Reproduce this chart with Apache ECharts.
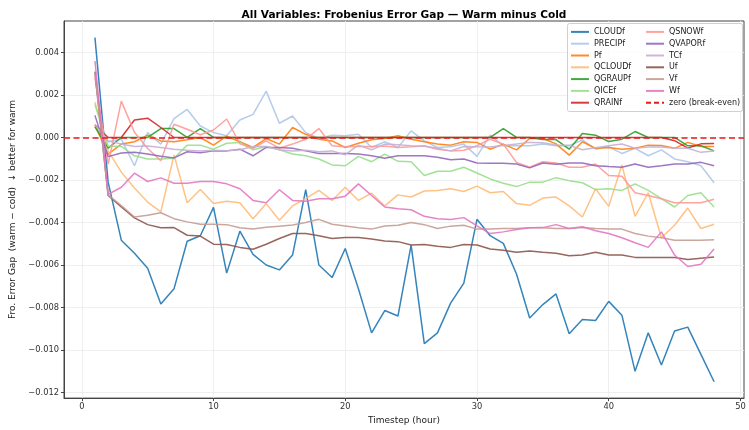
<!DOCTYPE html>
<html><head><meta charset="utf-8">
<script src="https://cdn.jsdelivr.net/npm/echarts@6/dist/echarts.min.js"></script>
<style>html,body{margin:0;padding:0;background:#fff}#c{width:749px;height:430px}</style>
</head><body><div id="c"></div>
<script>
const timesteps = [1,2,3,4,5,6,7,8,9,10,11,12,13,14,15,16,17,18,19,20,21,22,23,24,25,26,27,28,29,30,31,32,33,34,35,36,37,38,39,40,41,42,43,44,45,46,47,48];
const xTicks = [0,10,20,30,40,50];
const yTicks = [-0.012,-0.010,-0.008,-0.006,-0.004,-0.002,0,0.002,0.004];

const CLOUDf = [0.0047,-0.0021,-0.00483,-0.00545,-0.00615,-0.00783,-0.00712,-0.00488,-0.00462,-0.00329,-0.00638,-0.00441,-0.0055,-0.006,-0.00623,-0.00553,-0.00245,-0.006,-0.00659,-0.00522,-0.00712,-0.00919,-0.00814,-0.0084,-0.00506,-0.0097,-0.00919,-0.00779,-0.00685,-0.00385,-0.00462,-0.00498,-0.00642,-0.00849,-0.00786,-0.00736,-0.00923,-0.00856,-0.00861,-0.00771,-0.00836,-0.011,-0.00919,-0.0107,-0.0091,-0.00892,-0.0102,-0.01149];
const PRECIPf = [0.0005,-0.0002,-0.00008,-0.00133,0.00023,-0.00031,0.00089,0.00132,0.00054,0.00023,0.00008,0.00082,0.00109,0.00218,0.00067,0.00101,0.00023,-0.00005,0.00011,0.00008,0.00015,-0.00047,-0.0002,-0.00047,0.00031,-0.00016,-0.00047,-0.00044,-0.00031,-0.00089,0.00011,-0.00039,-0.00039,-0.00039,-0.00031,-0.00039,-0.00039,-0.00011,-0.00055,-0.00044,-0.00075,-0.00051,-0.00086,-0.00058,-0.00101,-0.00114,-0.00133,-0.00213];
const Pf = [0.00057,-0.00078,-0.00031,-0.0002,0.00011,-0.00016,-0.0002,-0.00011,0.0,-0.00036,0.00006,-0.0002,-0.00047,-0.00005,-0.00031,0.00047,0.00015,-0.00008,-0.00016,-0.00047,-0.00027,-0.00011,-0.00005,0.00008,-0.00008,-0.0002,-0.00031,-0.00036,-0.0002,-0.00023,-0.00055,-0.00031,-0.00058,-0.00005,-0.00005,-0.0003,-0.00083,-0.0002,-0.00051,-0.00047,-0.00055,-0.00051,-0.00036,-0.00038,-0.00051,-0.00023,-0.00042,-0.00042];
const QCLOUDf = [0.00166,-0.00063,-0.00163,-0.00238,-0.00304,-0.0035,-0.00082,-0.00307,-0.00245,-0.00311,-0.003,-0.00307,-0.00382,-0.00311,-0.00389,-0.00322,-0.00288,-0.00249,-0.00296,-0.00234,-0.00296,-0.00262,-0.00322,-0.0027,-0.0028,-0.00252,-0.00249,-0.00241,-0.00254,-0.00229,-0.0026,-0.00254,-0.00311,-0.00319,-0.00285,-0.0028,-0.00322,-0.00374,-0.00241,-0.00324,-0.00129,-0.00371,-0.0026,-0.00472,-0.00413,-0.00332,-0.00428,-0.00408];
const QGRAUPf = [0.0005,-0.0005,0,0,0,0.00042,0.00042,0,0.00042,0,0,0,0,0,0,0,0,0,0,0,0,0,0,0,0,0,0,0,0,0,0,0.00042,0,0,-0.0001,-0.0001,-0.00055,0.00019,0.00011,-0.00019,-0.00008,0.00028,0,0,0,-0.00039,-0.00039,-0.00063];
const QICEf = [0.00155,-0.0004,-0.00042,-0.00086,-0.00101,-0.00101,-0.00098,-0.00036,-0.00036,-0.00055,-0.00027,-0.00023,-0.00058,-0.00042,-0.00058,-0.00078,-0.00086,-0.00101,-0.00129,-0.00133,-0.00089,-0.00114,-0.00078,-0.00112,-0.00114,-0.00179,-0.00159,-0.00159,-0.0014,-0.00167,-0.00195,-0.00215,-0.00231,-0.0021,-0.0021,-0.00189,-0.00203,-0.00213,-0.00245,-0.00241,-0.00249,-0.00218,-0.00249,-0.00288,-0.00327,-0.00273,-0.0026,-0.00327];
const QRAINf = [0.0006,0,0,0.00082,0.00091,0.00047,0,0,0,0,0,0,0,0,0,0,0,0,0,0,0,0,0,0,0,0,0,0,0,0,0,0,0,0,0,0,0,0,0,0,0,0,0,0,-0.00015,-0.0005,-0.0003,-0.00028];
const QSNOWf = [0.0028,-0.00125,0.00171,0.00025,-0.00052,-0.00109,0.00062,0.00039,0.00013,0.00035,0.00087,-0.0003,-0.00051,-0.00016,-0.00051,-0.00031,-0.00008,0.00042,-0.00039,-0.00044,-0.00042,-0.00042,-0.0004,-0.00047,-0.00044,-0.0004,-0.00055,-0.00063,-0.0006,-0.00039,-0.00008,-0.00031,-0.00117,-0.0014,-0.00114,-0.0012,-0.0014,-0.0014,-0.00125,-0.00179,-0.00182,-0.0026,-0.00273,-0.00288,-0.00307,-0.00307,-0.00307,-0.00291];
const QVAPORf = [0.00104,-0.0009,-0.00073,-0.0007,-0.00078,-0.00088,-0.00096,-0.00067,-0.00072,-0.00063,-0.00063,-0.00055,-0.00086,-0.00047,-0.00047,-0.00051,-0.00063,-0.00075,-0.00075,-0.00075,-0.00078,-0.00086,-0.00098,-0.00086,-0.00086,-0.00086,-0.00093,-0.00105,-0.00101,-0.0012,-0.00121,-0.00121,-0.00125,-0.00143,-0.0012,-0.00126,-0.0012,-0.0012,-0.00133,-0.00137,-0.0014,-0.00125,-0.0014,-0.00133,-0.00125,-0.00125,-0.00117,-0.00133];
const TCf = [0.0006,-0.00016,-0.00031,-0.00042,-0.0004,-0.00047,-0.00055,-0.0006,-0.00063,-0.0006,-0.00062,-0.00058,-0.00042,-0.00042,-0.00058,-0.00063,-0.0006,-0.00067,-0.00063,-0.00081,-0.00036,-0.00058,-0.00031,-0.00034,-0.00039,-0.0004,-0.00051,-0.00063,-0.00042,-0.00044,-0.00045,-0.00038,-0.00031,-0.00023,-0.00025,-0.00035,-0.00037,-0.00058,-0.00048,-0.00039,-0.00031,-0.00051,-0.00045,-0.00045,-0.00051,-0.00051,-0.0007,-0.00063];
const Uf = [0.0031,-0.00273,-0.00327,-0.00378,-0.0041,-0.00425,-0.00424,-0.0046,-0.00464,-0.00502,-0.00503,-0.00517,-0.00526,-0.00502,-0.00475,-0.00452,-0.00452,-0.00462,-0.00475,-0.0047,-0.0047,-0.00478,-0.00487,-0.0049,-0.00506,-0.00503,-0.00512,-0.00517,-0.00503,-0.00506,-0.00525,-0.0053,-0.0054,-0.00534,-0.0054,-0.00545,-0.00556,-0.00553,-0.0054,-0.00553,-0.00553,-0.00564,-0.00564,-0.00564,-0.00565,-0.00574,-0.00568,-0.00562];
const Vf = [0.0030,-0.0027,-0.0032,-0.00374,-0.00366,-0.00354,-0.00382,-0.00397,-0.00408,-0.00408,-0.0041,-0.00425,-0.00431,-0.00422,-0.00417,-0.00412,-0.004,-0.00385,-0.00408,-0.00416,-0.00425,-0.00431,-0.00416,-0.00413,-0.004,-0.0041,-0.00428,-0.00417,-0.00413,-0.00431,-0.00431,-0.00428,-0.00428,-0.00425,-0.00425,-0.00428,-0.00428,-0.00424,-0.00428,-0.00431,-0.00431,-0.00452,-0.00464,-0.00472,-0.00483,-0.00483,-0.00483,-0.00481];
const Wf = [0.0036,-0.00268,-0.00234,-0.00168,-0.00207,-0.0019,-0.00215,-0.00215,-0.00207,-0.00207,-0.00218,-0.00241,-0.00296,-0.00307,-0.00246,-0.00296,-0.003,-0.00288,-0.00288,-0.00276,-0.00218,-0.00273,-0.00327,-0.00335,-0.0034,-0.00371,-0.00382,-0.00386,-0.00377,-0.00416,-0.00452,-0.00444,-0.00433,-0.00425,-0.00424,-0.0041,-0.00428,-0.0042,-0.00439,-0.00452,-0.00472,-0.00495,-0.00517,-0.00444,-0.00553,-0.00607,-0.00596,-0.00525];

const seriesNames = ['CLOUDf','PRECIPf','Pf','QCLOUDf','QGRAUPf','QICEf','QRAINf','QSNOWf','QVAPORf','TCf','Uf','Vf','Wf'];
const seriesValues = [CLOUDf,PRECIPf,Pf,QCLOUDf,QGRAUPf,QICEf,QRAINf,QSNOWf,QVAPORf,TCf,Uf,Vf,Wf];
const seriesColors = ['#1f77b4','#aec7e8','#ff7f0e','#ffbb78','#2ca02c','#98df8a','#d62728','#ff9896','#9467bd','#c5b0d5','#8c564b','#c49c94','#e377c2'];
const zeroName = 'zero (break-even)';

const FONT = 'DejaVu Sans';
const chart = echarts.init(document.getElementById('c'), null, {renderer:'canvas'});

const series = seriesNames.map((n,i)=>({
  name:n, type:'line', symbol:'none', showSymbol:false, animation:false,
  data: timesteps.map((t,j)=>[t, seriesValues[i][j]]),
  lineStyle:{width:1.5, color:seriesColors[i], opacity:0.9},
  itemStyle:{color:seriesColors[i]},
  emphasis:{disabled:true}, z:2
}));
series.push({
  name:zeroName, type:'line', symbol:'none', data:[], animation:false,
  lineStyle:{width:1.6, color:'#e41a1c', type:[5,3]},
  itemStyle:{color:'#e41a1c'},
  markLine:{silent:true, symbol:'none', label:{show:false},
    lineStyle:{width:1.6, color:'#e41a1c', type:[6,3.5]},
    data:[{yAxis:0}], animation:false},
  z:3
});

const legendCommon = {
  orient:'vertical', itemWidth:18, itemHeight:2, itemGap:0,
  itemStyle:{opacity:0},
  textStyle:{fontFamily:FONT, fontSize:8, color:'#222', lineHeight:11.8},
  selectedMode:false, padding:0, z:20
};

const option = {
  backgroundColor:'#fff',
  animation:false,
  title:{text:'All Variables: Frobenius Error Gap — Warm minus Cold', left:399, top:5, textAlign:'center',
    textStyle:{fontFamily:FONT, fontSize:10.6, fontWeight:'bold', color:'#000'}},
  grid:{left:59, right:5, top:21, bottom:29, show:true, borderColor:'#444', borderWidth:1, backgroundColor:'transparent'},
  xAxis:{type:'value', min:-1.35, max:50.27,
    name:'Timestep (hour)', nameLocation:'middle', nameGap:17,
    nameTextStyle:{fontFamily:FONT, fontSize:9, color:'#222'},
    axisLine:{show:true, onZero:false, lineStyle:{color:'#444', width:1}},
    axisTick:{show:true, length:3, lineStyle:{color:'#444'}, customValues:xTicks},
    axisLabel:{fontFamily:FONT, fontSize:8.3, color:'#333', margin:5, customValues:xTicks, formatter:v=>String(v)},
    splitLine:{show:true, lineStyle:{color:'#ebebeb', width:0.8}}
  },
  yAxis:{type:'value', min:-0.01226, max:0.00548,
    name:'Fro. Error Gap  (warm − cold)  ↓ better for warm', nameLocation:'middle', nameGap:47, nameRotate:90,
    nameTextStyle:{fontFamily:FONT, fontSize:9, color:'#222'},
    axisLine:{show:true, onZero:false, lineStyle:{color:'#444', width:1}},
    axisTick:{show:true, length:3, lineStyle:{color:'#444'}, customValues:yTicks},
    axisLabel:{fontFamily:FONT, fontSize:8.3, color:'#333', margin:5, customValues:yTicks,
      formatter:v=>{const s=(Math.abs(v)<1e-12?0:v).toFixed(3); return s.replace('-','\u2212');}},
    splitLine:{show:true, lineStyle:{color:'#ebebeb', width:0.8}}
  },
  legend:[
    Object.assign({}, legendCommon, {left:570, top:26, data:seriesNames.slice(0,7)}),
    Object.assign({}, legendCommon, {left:645, top:26, data:seriesNames.slice(7).concat([zeroName])})
  ],
  graphic:[{type:'rect', left:567, top:23, shape:{width:175, height:88, r:2},
    style:{fill:'rgba(255,255,255,0.8)', stroke:'#d0d0d0', lineWidth:1}, z:10, silent:true}],
  series: series
};
chart.setOption(option);
</script></body></html>
